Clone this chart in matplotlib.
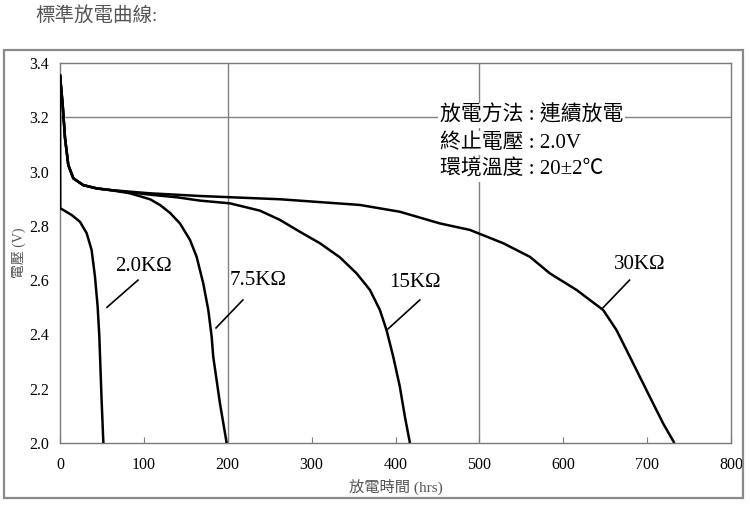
import matplotlib.pyplot as plt
from matplotlib.patches import Rectangle

plt.rcParams['font.family'] = ['Liberation Serif', 'Noto Sans CJK TC', 'DejaVu Sans']

# discharge curves (hrs, V)
x_2k = [0, 0.3, 13.9, 23.8, 31.8, 37.7, 41.7, 44.9, 46.9, 49.6, 51.7]
v_2k = [3.36, 2.865, 2.84, 2.815, 2.773, 2.711, 2.613, 2.502, 2.392, 2.158, 2.0]

x_75k = [0, 3.2, 6, 9.9, 15.9, 27.8, 43.7, 59.6, 83.4, 107.3, 119.2, 131.1, 143, 155,
         162.9, 170.8, 176.8, 180.8, 182.7, 190.7, 198.7]
v_75k = [3.356, 3.245, 3.123, 3.024, 2.975, 2.95, 2.938, 2.932, 2.92, 2.898, 2.877, 2.848,
         2.809, 2.748, 2.686, 2.588, 2.49, 2.392, 2.318, 2.146, 2.0]

x_15k = [0, 3.2, 6, 9.9, 15.9, 27.8, 43.7, 59.6, 107, 140, 166.9, 202.6, 238.4, 262.2,
         286.1, 309.9, 333.7, 353.6, 369.5, 381.4, 389.3, 397.3, 405.2, 411.2, 417.2]
v_15k = [3.356, 3.245, 3.123, 3.024, 2.975, 2.95, 2.938, 2.932, 2.915, 2.905, 2.893, 2.883,
         2.856, 2.822, 2.778, 2.736, 2.684, 2.625, 2.564, 2.49, 2.416, 2.318, 2.207, 2.097, 2.0]

x_30k = [0, 3.2, 6, 9.9, 15.9, 27.8, 43.7, 59.6, 107, 166.9, 262.2, 357.6, 405.2, 452.9,
         488.7, 528.4, 560.2, 584, 615.8, 647.6, 663.5, 679.4, 703.2, 719.1, 732.5]
v_30k = [3.356, 3.245, 3.123, 3.024, 2.975, 2.95, 2.938, 2.932, 2.92, 2.91, 2.898, 2.877,
         2.852, 2.809, 2.785, 2.736, 2.686, 2.625, 2.564, 2.49, 2.416, 2.318, 2.17, 2.072, 2.0]

curve_labels = ['2.0KΩ', '7.5KΩ', '15KΩ', '30KΩ']
label_pos = [(99, 2.652), (236, 2.60), (423, 2.593), (691, 2.656)]
leader_lines = [((56, 2.50), (93, 2.60)), ((186, 2.424), (218, 2.527)),
                ((391, 2.42), (429, 2.527)), ((647, 2.497), (679, 2.60))]

x_ticks = [0, 100, 200, 300, 400, 500, 600, 700, 800]
y_ticks = [2.0, 2.2, 2.4, 2.6, 2.8, 3.0, 3.2, 3.4]
info_lines = ['放電方法 : 連續放電', '終止電壓 : 2.0V', '環境溫度 : 20±2℃']

fig = plt.figure(figsize=(7.5, 5.07), dpi=100)
fig.patch.set_facecolor('white')

# outer frame of the picture
fig.patches.append(Rectangle((4 / 750, 1 - 498 / 507), 739 / 750, 448 / 507,
                             transform=fig.transFigure, fill=False,
                             edgecolor='#8a8a8a', linewidth=1.6))
fig.text(35 / 750, 1 - 15 / 507, '標準放電曲線:', fontsize=14, color='#555555',
         va='center', ha='left')

ax = fig.add_axes([60 / 750, 1 - 443 / 507, 671 / 750, 380 / 507])
ax.set_xlim(0, 800)
ax.set_ylim(2.0, 3.4)

for s in ax.spines.values():
    s.set_color('#7a7a7a')
    s.set_linewidth(1.0)

# sparse grid like the original
for gx in [200, 500]:
    ax.axvline(gx, color='#808080', linewidth=1.0, zorder=1)
ax.axhline(3.2, color='#808080', linewidth=1.0, zorder=1)

for xs, vs in [(x_2k, v_2k), (x_75k, v_75k), (x_15k, v_15k), (x_30k, v_30k)]:
    ax.plot(xs, vs, color='black', linewidth=1.8, zorder=3,
            solid_joinstyle='round', solid_capstyle='butt')

for lab, (lx, ly), ((x0, y0), (x1, y1)) in zip(curve_labels, label_pos, leader_lines):
    ax.text(lx, ly, lab, fontsize=15, ha='center', va='center', zorder=4)
    ax.plot([x0, x1], [y0, y1], color='black', linewidth=1.2, zorder=4)

for i, line in enumerate(info_lines):
    ax.text(453, 3.206 - i * 0.1, line, fontsize=15, ha='left', va='center',
            zorder=5, bbox=dict(facecolor='white', edgecolor='none', pad=1.5))

ax.set_xticks(x_ticks)
ax.set_yticks(y_ticks)
ax.set_xticklabels([str(t) for t in x_ticks])
ax.set_yticklabels([f'{t:.1f}' for t in y_ticks])
ax.tick_params(axis='x', direction='in', length=4, color='#7a7a7a', labelsize=11.5, pad=10)
ax.tick_params(axis='y', length=0, labelsize=11.5, pad=8)

ax.set_xlabel('放電時間 (hrs)', fontsize=11, color='#555555', labelpad=4)
ax.set_ylabel('電壓 (V)', fontsize=10, color='#555555', labelpad=2)

fig.savefig('out.png', dpi=100)
